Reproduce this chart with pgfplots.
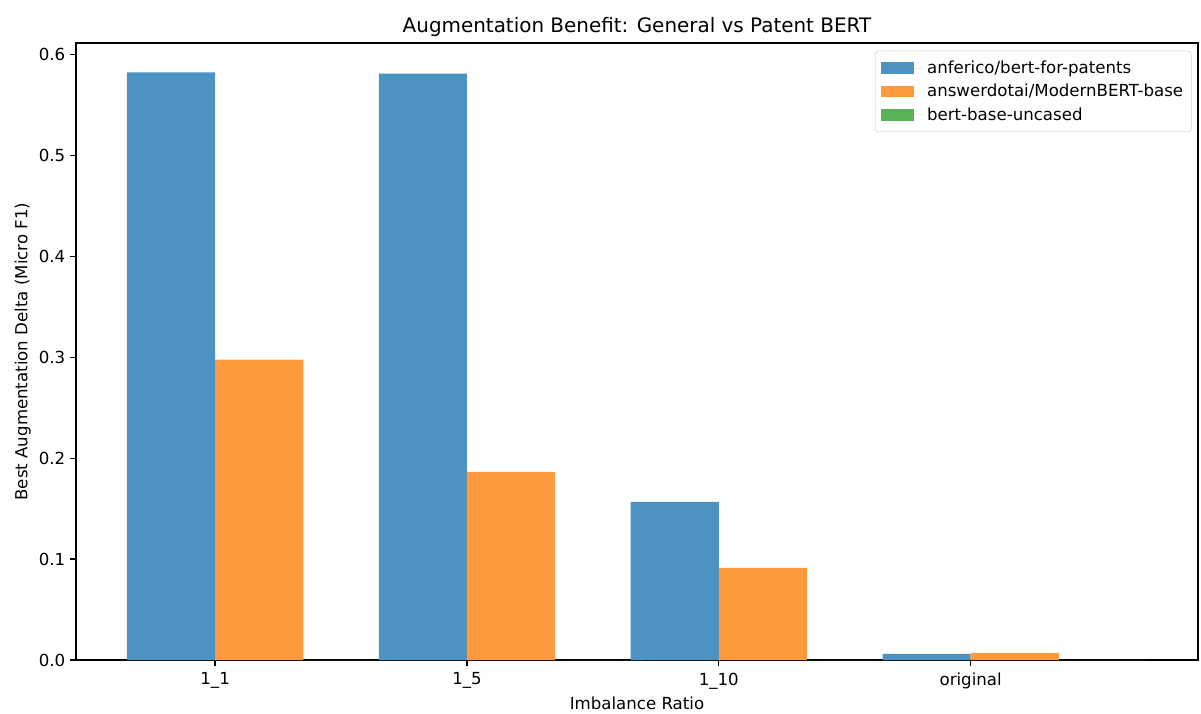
\documentclass[border=0pt]{standalone}
\usepackage{fontspec}
\setmainfont{DejaVu Sans}
\usepackage{pgfplots}
\pgfplotsset{compat=1.18}
\definecolor{cblue}{RGB}{76,146,195}
\definecolor{corange}{RGB}{255,153,62}
\definecolor{cgreen}{RGB}{86,179,86}
\begin{document}
\begin{tikzpicture}
\begin{axis}[
  name=ax,
  scale only axis,
  width=807.8bp, height=444.2bp,
  xmin=-0.5525, xmax=3.9025,
  ymin=0, ymax=0.6114,
  xtick={0,1,2,3},
  xticklabels={1\_1,1\_5,1\_10,original},
  ytick={0,0.1,0.2,0.3,0.4,0.5,0.6},
  yticklabel style={/pgf/number format/.cd,fixed,fixed zerofill,precision=1},
  /pgf/number format/assume math mode=true,
  tick align=outside,
  xtick pos=left, ytick pos=left,
  major tick length=4.2bp,
  every tick/.style={black, line width=0.96bp},
  axis line style={line width=0.96bp},
  tick label style={font=\fontsize{12}{14}\selectfont},
  xticklabel style={yshift=-1.5bp},
  label style={font=\fontsize{12}{14}\selectfont},
  xlabel={Imbalance Ratio},
  ylabel={Best Augmentation Delta (Micro F1)},
  xlabel style={yshift=1bp},
  ylabel style={yshift=-1bp},
  title={Augmentation Benefit: General vs Patent BERT},
  title style={font=\fontsize{14.4}{16}\selectfont, yshift=-5bp},
  legend cell align=left,
  legend style={at={(1,1)}, anchor=north east, xshift=-4.5bp, yshift=-5.5bp,
    draw=black!20, rounded corners=2.5bp, font=\fontsize{12}{14}\selectfont,
    row sep=2.3bp, inner xsep=4bp, inner ysep=5bp},
  legend image code/.code={\fill[#1, sharp corners] (0bp,-4.2bp) rectangle (24bp,4.2bp);
    \path (0bp,0bp) -- (31.5bp,0bp);},
]
\addplot[ybar, bar width=0.35, bar shift=-0.175, fill=cblue, draw=none]
  coordinates {(0,0.5823) (1,0.5810) (2,0.1567) (3,0.0060)};
\addplot[ybar, bar width=0.35, bar shift=0.175, fill=corange, draw=none]
  coordinates {(0,0.2976) (1,0.1865) (2,0.0913) (3,0.0070)};
\addplot[ybar, bar width=0.35, bar shift=0.525, fill=cgreen, draw=none]
  coordinates {(0,0) (1,0) (2,0) (3,0)};
\legend{anferico/bert-for-patents,answerdotai/ModernBERT-base,bert-base-uncased}
\end{axis}
\pgfresetboundingbox
\path[use as bounding box] ([xshift=-54.7bp,yshift=-38.2bp]ax.south west) rectangle ([xshift=2.2bp,yshift=31bp]ax.north east);
\end{tikzpicture}
\end{document}
